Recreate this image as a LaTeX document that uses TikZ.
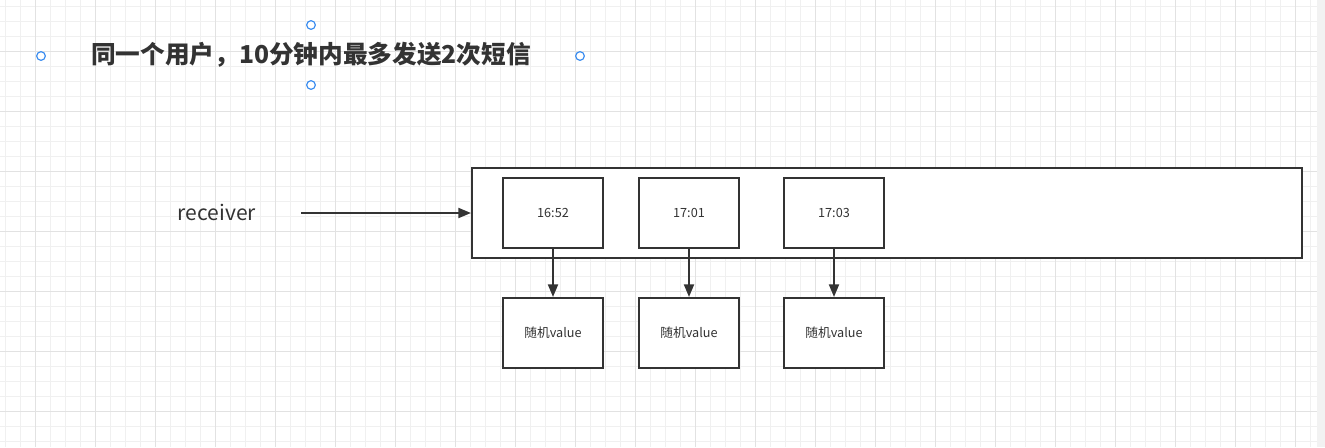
\documentclass[tikz,border=0pt]{standalone}
\usepackage{fontspec}
\newfontfamily\cjk{Noto Sans CJK SC}
\usetikzlibrary{arrows.meta}
\definecolor{ink}{HTML}{333333}
\definecolor{gridminor}{HTML}{F0F0F0}
\definecolor{gridmajor}{HTML}{E2E2E2}
\definecolor{handle}{HTML}{3D8EF0}
\definecolor{scrollbar}{HTML}{F2F2F2}
\tikzset{
  box/.style={draw=ink, line width=1.5pt, fill=white, inner sep=0pt,
    minimum width=75.5pt, minimum height=52.5pt, text=ink,
    font=\cjk\fontsize{9.5pt}{11pt}\selectfont},
  frame/.style={draw=ink, line width=1.5pt, fill=white, inner sep=0pt,
    minimum width=622.5pt, minimum height=67.5pt},
  link/.style={draw=ink, line width=1.5pt, -{Triangle[length=9.5pt,width=7.5pt]}},
  grip/.style={circle, draw=handle, line width=0.9pt, fill=white,
    inner sep=0pt, minimum size=6.5pt},
}
\begin{document}
\begin{tikzpicture}[x=0.75pt, y=-0.75pt]
  \useasboundingbox (0,0) rectangle (1325,447);
  \fill[white] (0,0) rectangle (1325,447);
  % background grid
  \foreach \k in {0,...,88} \draw[gridminor, line width=0.75pt] ({5.7+15*\k},0) -- ({5.7+15*\k},447);
  \foreach \k in {0,...,29} \draw[gridminor, line width=0.75pt] (0,{6+15*\k}) -- (1325,{6+15*\k});
  \foreach \k in {0,...,21} \draw[gridmajor, line width=0.75pt] ({35.7+60*\k},0) -- ({35.7+60*\k},447);
  \foreach \k in {0,...,6} \draw[gridmajor, line width=0.75pt] (0,{51+60*\k}) -- (1325,{51+60*\k});
  \fill[scrollbar] (1317,0) rectangle (1325,447);

  % title with its selection handles
  \node[text=ink, font=\cjk\bfseries\fontsize{18.5pt}{22pt}\selectfont] (title) at (311,55) {同一个用户，10分钟内最多发送2次短信};
  \node[grip] (gt) at (311,25) {};
  \node[grip] (gb) at (311,85) {};
  \node[grip] (gl) at (41,56) {};
  \node[grip] (gr) at (580,56) {};

  % key and its list
  \node[text=ink, font=\cjk\fontsize{15.8pt}{19pt}\selectfont] (recv) at (217,212) {receiver};
  \coordinate (src) at (301,213);
  \node[frame] (list) at (887,213) {};
  \draw[link] (src) -- (list.west);

  \node[box] (t1) at (553,213) {16:52};
  \node[box] (t2) at (689,213) {17:01};
  \node[box] (t3) at (834,213) {17:03};

  \node[box] (v1) at (553,333) {随机value};
  \node[box] (v2) at (689,333) {随机value};
  \node[box] (v3) at (834,333) {随机value};

  \draw[link] (t1.south) -- (v1.north);
  \draw[link] (t2.south) -- (v2.north);
  \draw[link] (t3.south) -- (v3.north);
\end{tikzpicture}
\end{document}
